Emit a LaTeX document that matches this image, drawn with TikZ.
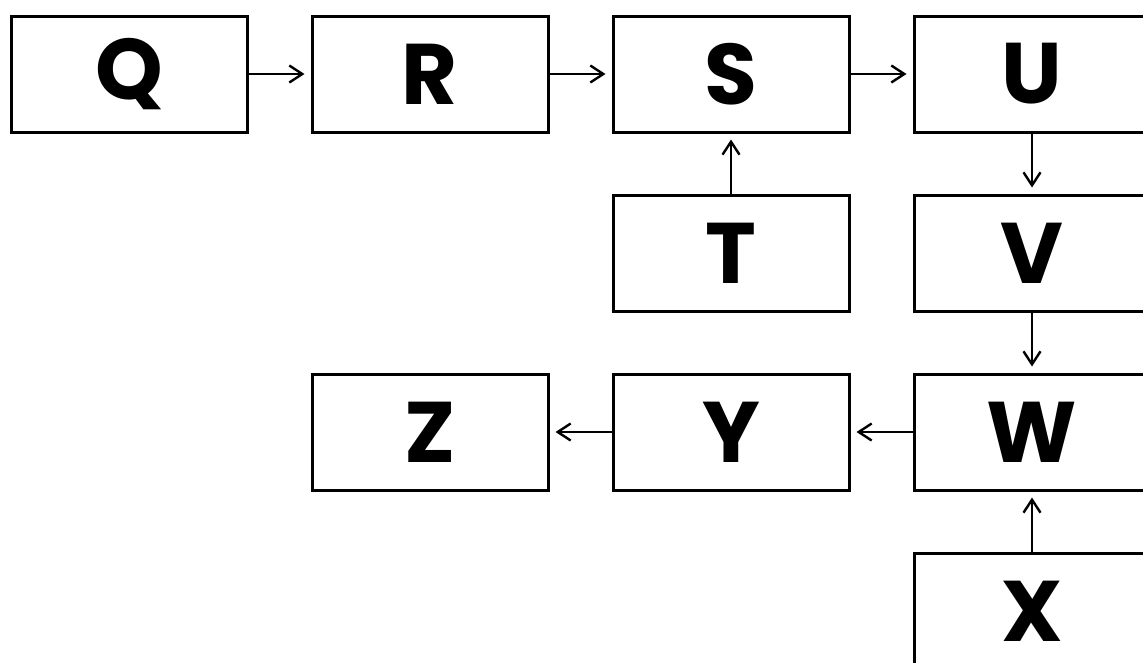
\documentclass[tikz,border=0pt]{standalone}
\usepackage{fontspec}
\setmainfont{Poppins}
\usetikzlibrary{positioning,arrows.meta}

\tikzset{block/.style={
		draw=black, line width=3pt, minimum width=236pt, minimum height=116pt,
		inner sep=0pt, font=\fontsize{86}{86}\selectfont\bfseries
	},
	flow/.style={
		black, line width=2.4pt, -{Straight Barb[length=13pt,width=17pt,line width=2.4pt]}, shorten >=6pt
	}
}

\begin{document}
\begin{tikzpicture}[node distance=60pt and 62pt]
		\useasboundingbox (0pt,0pt) rectangle (1143pt,-662pt);
		% top row
		\node [block] (Q) at (129pt,-74pt) {Q};
		\node [block, right=of Q] (R) {R};
		\node [block, right=of R] (S) {S};
		\node [block, right=of S] (U) {U};
		% going down
		\node [block, below=of S] (T) {T};
		\node [block, below=of U] (V) {V};
		\node [block, below=of V] (W) {W};
		\node [block, below=of W] (X) {X};
		\node [block, left=of W] (Y) {Y};
		\node [block, left=of Y] (Z) {Z};
		\draw [flow] (Q) -- (R);
		\draw [flow] (R) -- (S);
		\draw [flow] (S) -- (U);
		\draw [flow] (T) -- (S);
		\draw [flow] (U) -- (V);
		\draw [flow] (V) -- (W);
		\draw [flow] (X) -- (W);
		\draw [flow] (W) -- (Y);
		\draw [flow] (Y) -- (Z);
	\end{tikzpicture}
\end{document}
